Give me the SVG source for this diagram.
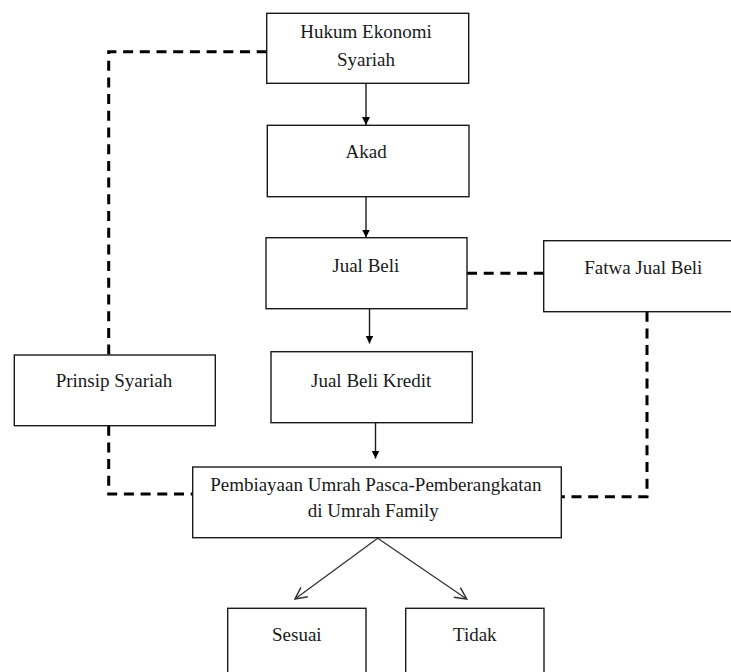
<svg xmlns="http://www.w3.org/2000/svg" width="731" height="672" viewBox="0 0 731 672">
<style>
.box{fill:#fff;stroke:#1a1a1a;stroke-width:1.4}
.t{font-family:'Liberation Serif','DejaVu Serif',serif;font-size:19px;fill:#1a1a1a;text-anchor:middle}
.arr{stroke:#1a1a1a;stroke-width:1.4;fill:none}
.dash{stroke:#000;stroke-width:3;fill:none;stroke-dasharray:10 6.7}
.diag{stroke:#333;stroke-width:1.3;fill:none}
</style>
<defs>
<marker id="ah" viewBox="0 0 10 10" refX="10" refY="5" markerWidth="8" markerHeight="9" markerUnits="userSpaceOnUse" orient="auto">
<path d="M0,0 L10,5 L0,10 Z" fill="#000"/>
</marker>
<marker id="open" viewBox="0 0 12 12" refX="11" refY="6" markerWidth="14" markerHeight="14" markerUnits="userSpaceOnUse" orient="auto">
<path d="M1,1 L11,6 L1,11" fill="none" stroke="#333" stroke-width="1.3"/>
</marker>
</defs>
<rect width="731" height="672" fill="#fff"/>
<g id="connectors">
<path class="dash" d="M266.7,51.7 H108.7 V355"/>
<path class="dash" d="M108.7,425.7 V494 H192.7"/>
<path class="dash" d="M467,273.3 H543.7"/>
<path class="dash" d="M647,311.7 V496.7 H561.3"/>
<line class="arr" x1="366" y1="83.3" x2="366" y2="125" marker-end="url(#ah)"/>
<line class="arr" x1="366" y1="196.7" x2="366" y2="237.5" marker-end="url(#ah)"/>
<line class="arr" x1="369.5" y1="308.7" x2="369.5" y2="343.5" marker-end="url(#ah)"/>
<line class="arr" x1="375.5" y1="422.7" x2="375.5" y2="458.5" marker-end="url(#ah)"/>
<line class="diag" x1="377.7" y1="538.3" x2="295" y2="599" marker-end="url(#open)"/>
<line class="diag" x1="377.7" y1="538.3" x2="466.7" y2="599" marker-end="url(#open)"/>
</g>
<g id="hukum">
<rect class="box" x="266.7" y="13.3" width="202" height="70"/>
<text class="t" x="366" y="38">Hukum Ekonomi</text>
<text class="t" x="366" y="66">Syariah</text>
</g>
<g id="akad">
<rect class="box" x="267.3" y="125.3" width="201.7" height="71.4"/>
<text class="t" x="366.2" y="158.3">Akad</text>
</g>
<g id="jualbeli">
<rect class="box" x="266" y="237.7" width="201" height="71"/>
<text class="t" x="365.8" y="271.7">Jual Beli</text>
</g>
<g id="fatwa">
<rect class="box" x="543.7" y="240.7" width="200" height="71"/>
<text class="t" x="643.3" y="274.3">Fatwa Jual Beli</text>
</g>
<g id="prinsip">
<rect class="box" x="14.3" y="355" width="201" height="70.7"/>
<text class="t" x="114" y="387.3">Prinsip Syariah</text>
</g>
<g id="kredit">
<rect class="box" x="271" y="351.7" width="201.3" height="71"/>
<text class="t" x="371.2" y="386.7">Jual Beli Kredit</text>
</g>
<g id="pembiayaan">
<rect class="box" x="192.7" y="467" width="368.6" height="70.7"/>
<text class="t" x="375.8" y="490.7">Pembiayaan Umrah Pasca-Pemberangkatan</text>
<text class="t" x="373.3" y="517">di Umrah Family</text>
</g>
<g id="sesuai">
<rect class="box" x="227.7" y="608.3" width="138.3" height="80"/>
<text class="t" x="296.8" y="641">Sesuai</text>
</g>
<g id="tidak">
<rect class="box" x="405.7" y="608.3" width="138.3" height="80"/>
<text class="t" x="474.8" y="641">Tidak</text>
</g>
</svg>
